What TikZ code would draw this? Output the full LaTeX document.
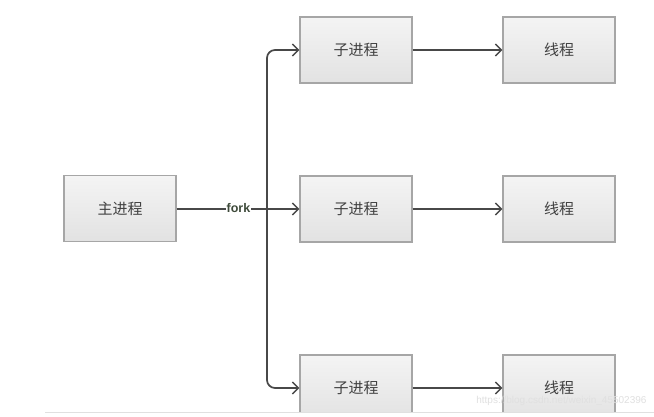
\documentclass[tikz,border=0pt]{standalone}
\usepackage{fontspec}
\setmainfont{Liberation Sans}
\newfontfamily\cjk{Noto Sans CJK SC}
\usetikzlibrary{arrows.meta}
\definecolor{boxline}{HTML}{A6A6A6}
\definecolor{boxtop}{HTML}{F4F4F4}
\definecolor{boxbot}{HTML}{E2E2E2}
\definecolor{linec}{HTML}{484848}
\definecolor{forkc}{HTML}{3E4A3A}
\tikzset{
  procbox/.style={draw=boxline, line width=1.3pt, top color=boxtop, bottom color=boxbot,
    minimum width=112pt, minimum height=66pt, inner sep=0pt,
    font=\cjk\fontsize{15}{15}\selectfont, text=black!75},
  conn/.style={draw=linec, line width=1.7pt, -{Straight Barb[length=6pt,width=12pt,line width=1.4pt]}},
  plain/.style={draw=linec, line width=1.7pt}
}
\begin{document}
\begin{tikzpicture}[x=1pt,y=-1pt]
\useasboundingbox (0,0) rectangle (654,417);
\fill[white] (0,0) rectangle (654,417);
\begin{scope}
\clip (0,0) rectangle (654,412);
\node[procbox] (main) at (120,208.5) {主进程};
\node[procbox] (c1) at (356,50) {子进程};
\node[procbox] (c2) at (356,209) {子进程};
\node[procbox] (c3) at (356,388) {子进程};
\node[procbox] (t1) at (559,50) {线程};
\node[procbox] (t2) at (559,209) {线程};
\node[procbox] (t3) at (559,388) {线程};
\coordinate (j) at (267,209);
\draw[plain] (main.east |- j) -- (j);
\draw[conn] (j) -- (c2.west);
\draw[conn, rounded corners=8pt] (j) -- (j |- c1.west) -- (c1.west);
\draw[conn, rounded corners=8pt] (j) -- (j |- c3.west) -- (c3.west);
\node[font=\bfseries\fontsize{12.5}{12.5}\selectfont, text=forkc, fill=white, inner sep=0.5pt] (fk) at (238.5,208) {fork};
\draw[conn] (c1) -- (t1);
\draw[conn] (c2) -- (t2);
\draw[conn] (c3) -- (t3);
\node[font=\fontsize{10}{10}\selectfont, text=black!12, anchor=east] (wm) at (650,401) {https://blog.csdn.net/weixin\_45502396};
\end{scope}
\draw[black!12, line width=1pt] (45,412.5) -- (654,412.5);
\end{tikzpicture}
\end{document}
